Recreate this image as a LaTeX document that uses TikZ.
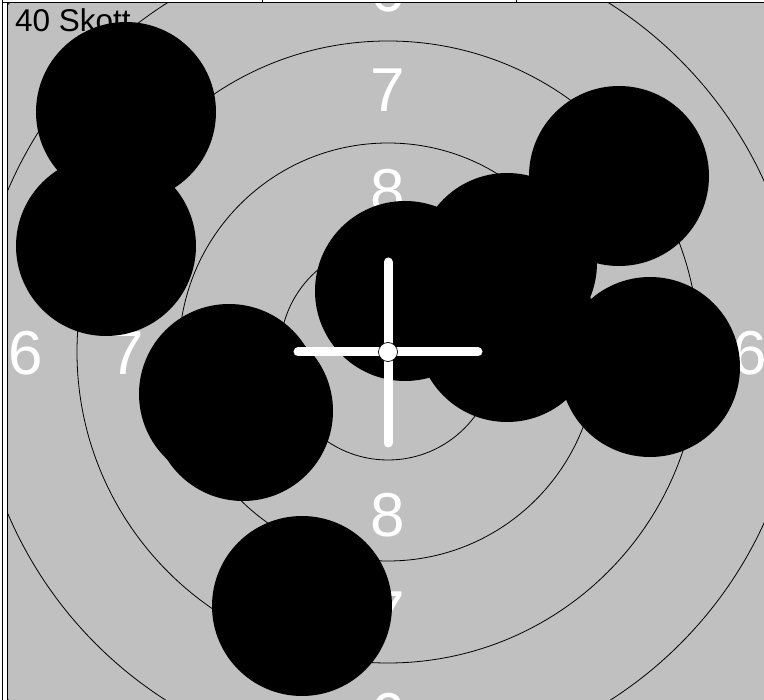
\documentclass[tikz,border=0pt]{standalone}
\usepackage{fontspec}
\setmainfont{Liberation Sans}
\definecolor{targetgrey}{RGB}{192,192,192}
\begin{document}
\begin{tikzpicture}[x=1pt,y=-1pt,
  ring/.style={draw=black,line width=0.8pt},
  hole/.style={fill=black},
  ringlabel/.style={text=white,font=\fontsize{62}{62}\selectfont,inner sep=0pt,anchor=base},
  crossbar/.style={draw=white,line width=9pt,line cap=round},
  frameline/.style={draw=black,line width=1pt}]
\useasboundingbox (0,0) rectangle (764,700);
\fill[white] (0,0) rectangle (764,700);
\fill[targetgrey] (7,3.5) rectangle (764,700);
\draw[frameline,line width=1.3pt] (2.5,0) -- (2.5,700);
\draw[frameline] (7,3) -- (7,700);
\draw[frameline] (2,3) -- (764,3);
\draw[frameline] (262,0) -- (262,3);
\draw[frameline] (516,0) -- (516,3);
\coordinate (c) at (388,352);
\begin{scope}
  \clip (7.5,3.5) rectangle (764,700);
  \foreach \r in {108,209,311,413,515} \draw[ring] (c) circle[radius=\r pt];
  \node[ringlabel] (t6) at (388,12) {6};
  \node[ringlabel] (t7) at (388,112) {7};
  \node[ringlabel] (t8) at (388,213) {8};
  \node[ringlabel] (b8) at (388,537) {8};
  \node[ringlabel] (b7) at (388,634) {7};
  \node[ringlabel] (b6) at (388,736) {6};
  \node[ringlabel] (l6) at (26,375) {6};
  \node[ringlabel] (l7) at (127,375) {7};
  \node[ringlabel] (r7) at (650,375) {7};
  \node[ringlabel] (r6) at (750,375) {6};
  \node[font=\fontsize{31.5}{31.5}\selectfont,inner sep=0pt,anchor=base west] (count) at (15,32) {40 Skott};
  \foreach \hx/\hy in {126/112,106/246,229/394,243/411,405/291,507/263,507/332,619/176,650/367,302/606}
    \fill[hole] (\hx,\hy) circle[radius=90pt];
\end{scope}
\draw[crossbar] (298,352) -- (478,352);
\draw[crossbar] (388,262) -- (388,443);
\draw[fill=white,draw=black,line width=0.7pt] (c) circle[radius=9.5pt];
\end{tikzpicture}
\end{document}
